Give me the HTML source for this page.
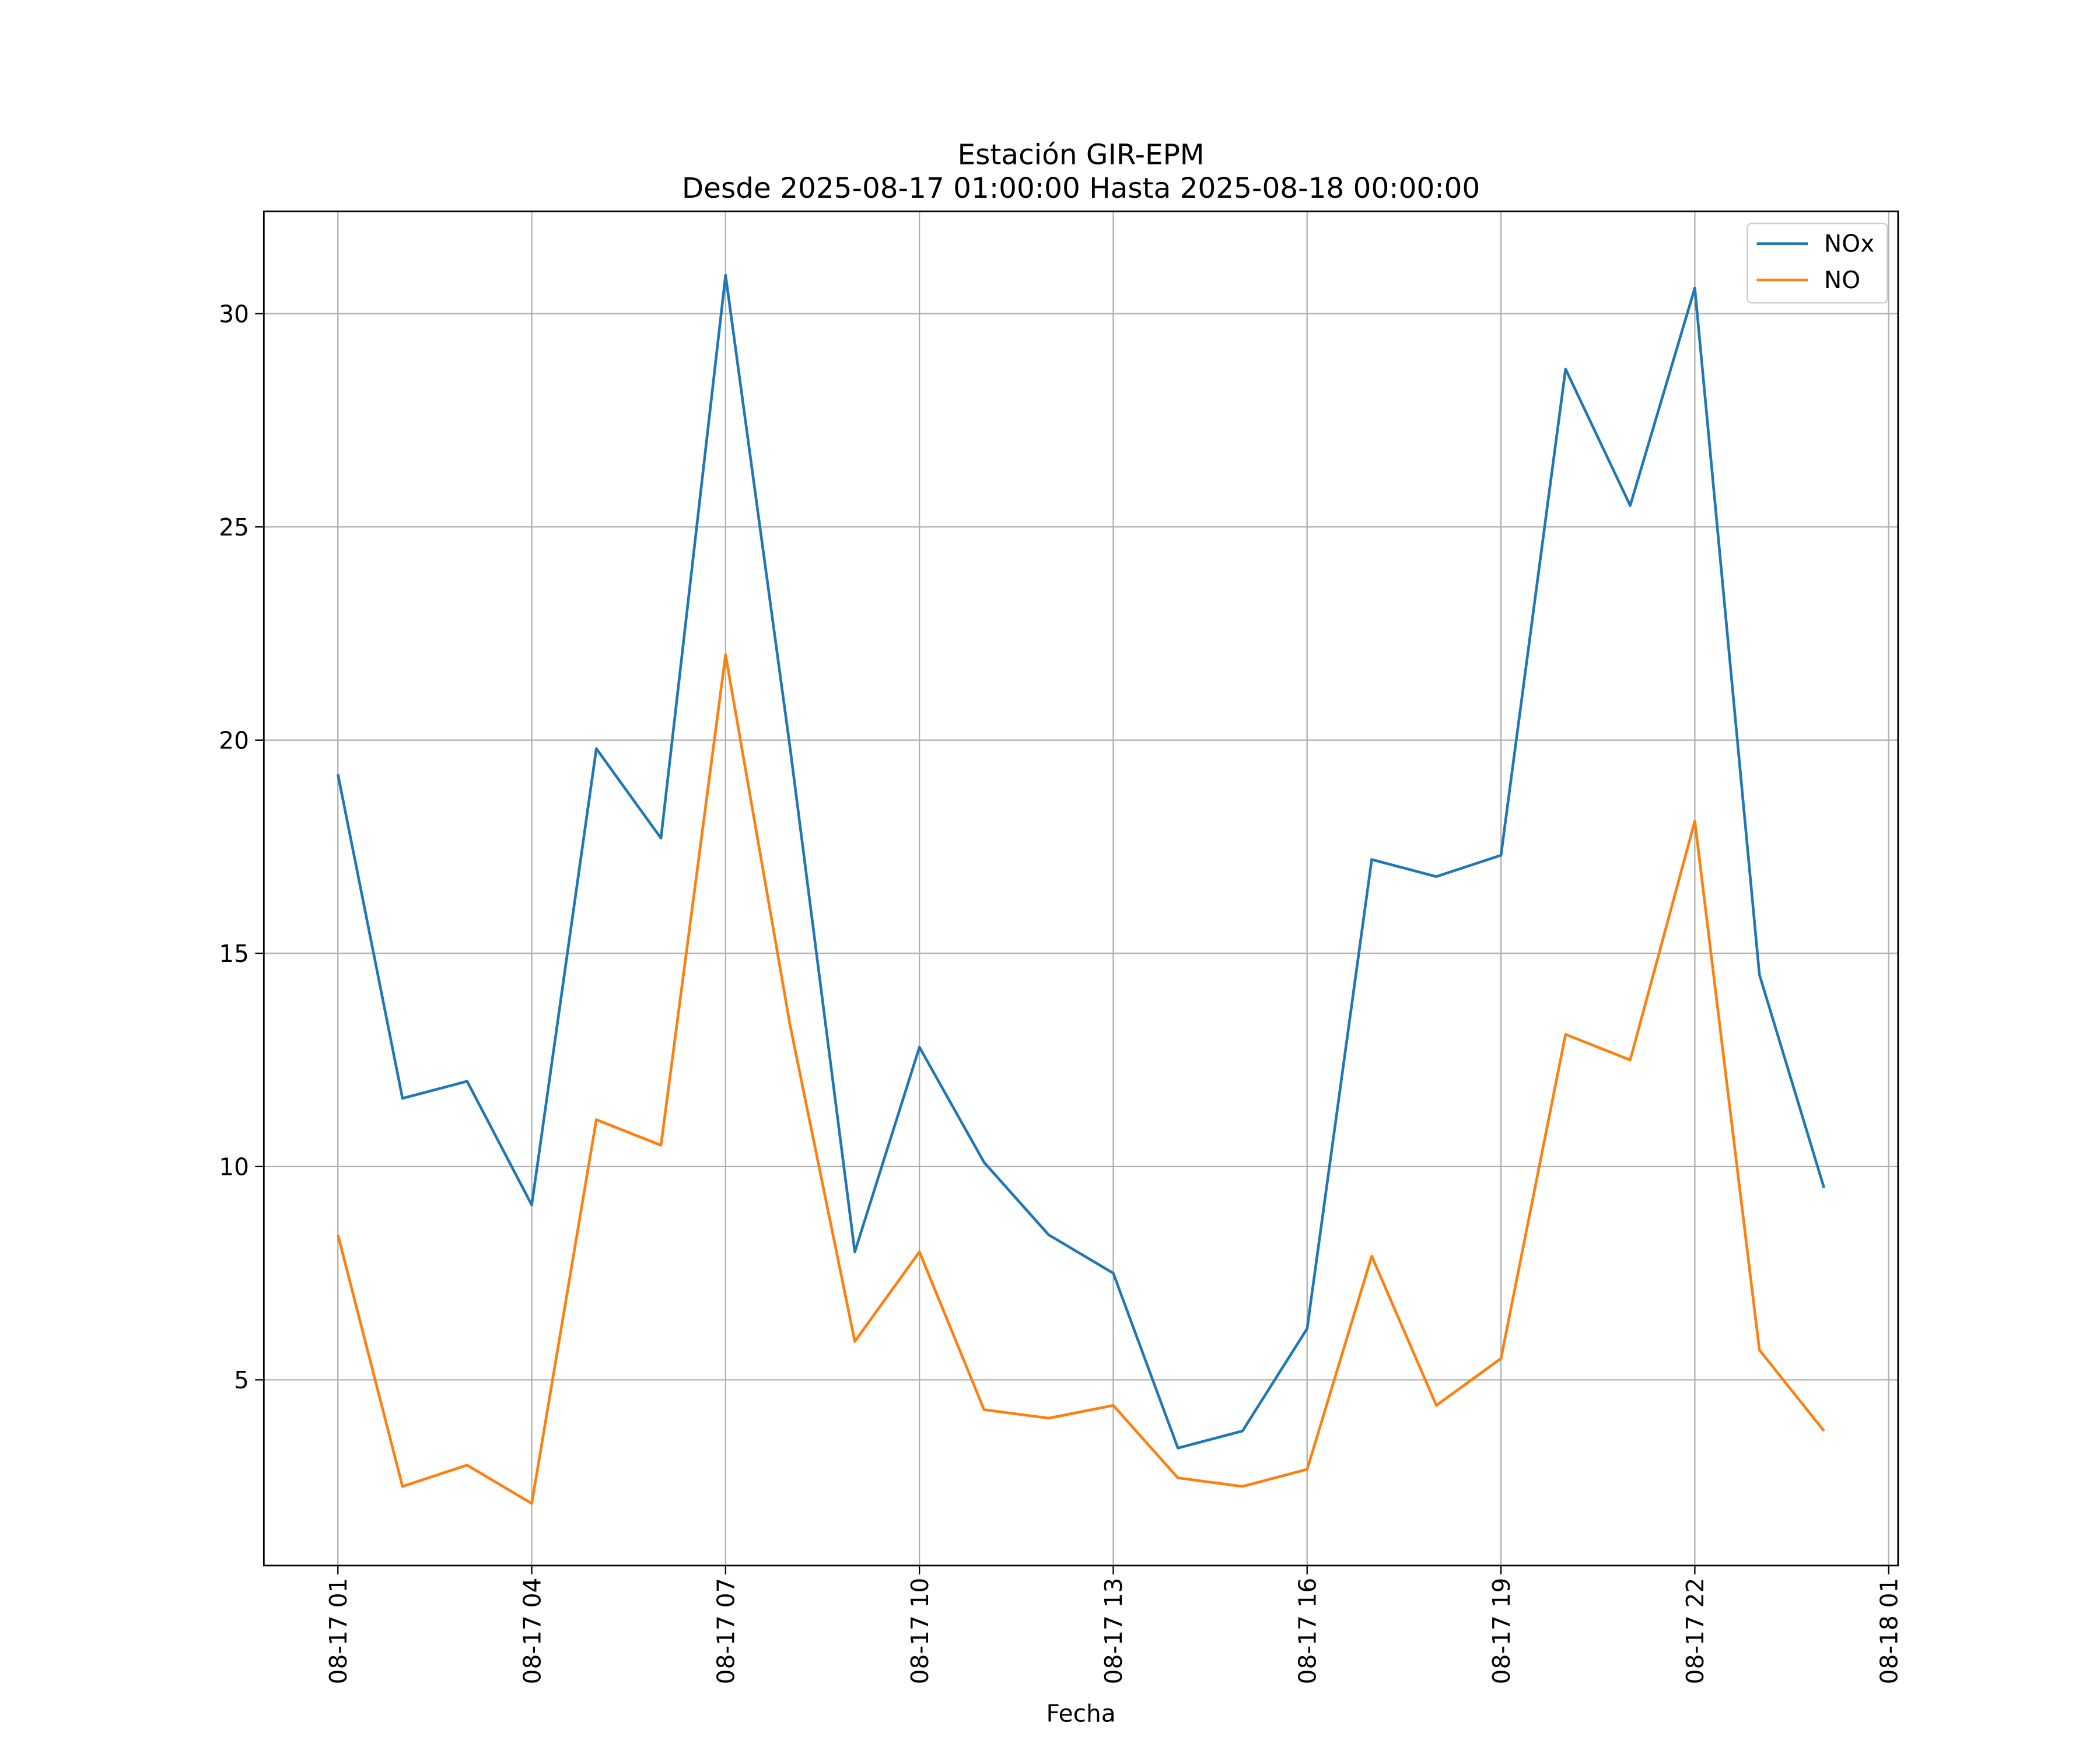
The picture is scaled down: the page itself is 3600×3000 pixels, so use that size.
<!DOCTYPE html>
<html><head><meta charset="utf-8"><style>
html,body{margin:0;padding:0;background:#fff}
svg{display:block}
text{font-family:"DejaVu Sans","Liberation Sans",sans-serif;fill:#000}
</style></head><body>
<svg id="chart" width="3600" height="3000" viewBox="0 0 1560 1300" xmlns="http://www.w3.org/2000/svg">
<rect width="1560" height="1300" fill="#fff"/>
<text x="803" y="122" font-size="21" text-anchor="middle">Estación GIR-EPM</text>
<text x="803" y="147" font-size="21" text-anchor="middle">Desde 2025-08-17 01:00:00 Hasta 2025-08-18 00:00:00</text>
<g id="grid"></g>
<g id="series"></g>
<rect x="196" y="157" width="1214" height="1006" fill="none" stroke="#000" stroke-width="1.2"/>
<g id="axes"></g>
<text x="803" y="1279" font-size="17.6" text-anchor="middle">Fecha</text>
<g>
<rect x="1298" y="166" width="104" height="59" rx="3" fill="#fff" fill-opacity="0.8" stroke="#ccc" stroke-width="1"/>
<line x1="1305" y1="181" x2="1343" y2="181" stroke="#1f77b4" stroke-width="2"/>
<text x="1355" y="187" font-size="17.6">NOx</text>
<line x1="1305" y1="208" x2="1343" y2="208" stroke="#ff7f0e" stroke-width="2"/>
<text x="1355" y="214" font-size="17.6">NO</text>
</g>
</svg>
<script>
const hours = [1,2,3,4,5,6,7,8,9,10,11,12,13,14,15,16,17,18,19,20,21,22,23,24];
const noxValues = [19.2,11.6,12.0,9.1,19.8,17.7,30.9,19.8,8.0,12.8,10.1,8.4,7.5,3.4,3.8,6.2,17.2,16.8,17.3,28.7,25.5,30.6,14.5,9.5];
const noValues = [8.4,2.5,3.0,2.1,11.1,10.5,22.0,13.3,5.9,8.0,4.3,4.1,4.4,2.7,2.5,2.9,7.9,4.4,5.5,13.1,12.5,18.1,5.7,3.8];
const yTicks = [5,10,15,20,25,30];
const xTickHours = [1,4,7,10,13,16,19,22,25];
const xTickLabels = ["08-17 01","08-17 04","08-17 07","08-17 10","08-17 13","08-17 16","08-17 19","08-17 22","08-18 01"];

const NS="http://www.w3.org/2000/svg";
const xs = h => 251 + (h-1)*48;
const ys = v => 1025 - (v-5)*31.68;
function mk(tag, attrs, parent){const e=document.createElementNS(NS,tag);for(const k in attrs)e.setAttribute(k,attrs[k]);parent.appendChild(e);return e;}
const grid=document.getElementById('grid'), axes=document.getElementById('axes'), series=document.getElementById('series');
yTicks.forEach(v=>{
  const y=ys(v);
  const g=mk('line',{x1:196,x2:1410,y1:y,y2:y,stroke:'#b0b0b0','stroke-width':1},grid);
  
  
  mk('line',{x1:189.5,x2:196,y1:y,y2:y,stroke:'#000','stroke-width':1},axes);
  const t=mk('text',{x:185,y:y+6.4,'font-size':17.6,'text-anchor':'end'},axes);
  t.textContent=v;
  
  
});
xTickHours.forEach((h,i)=>{
  const x=xs(h);
  const g=mk('line',{x1:x,x2:x,y1:157,y2:1163,stroke:'#b0b0b0','stroke-width':1},grid);
  
  
  mk('line',{x1:x,x2:x,y1:1163,y2:1169.5,stroke:'#000','stroke-width':1},axes);
  const t=mk('text',{x:0,y:0,'font-size':17.6,'text-anchor':'end',transform:`translate(${x+6.4},1172) rotate(-90)`},axes);
  t.textContent=xTickLabels[i];
  
  
});
function line(vals,color,name){
  const p=mk('polyline',{points:vals.map((v,i)=>xs(hours[i])+','+ys(v)).join(' '),fill:'none',stroke:color,'stroke-width':2,'stroke-linejoin':'round'},series);
  
  
}
line(noxValues,'#1f77b4','nox-line');
line(noValues,'#ff7f0e','no-line');
</script>
</body></html>
